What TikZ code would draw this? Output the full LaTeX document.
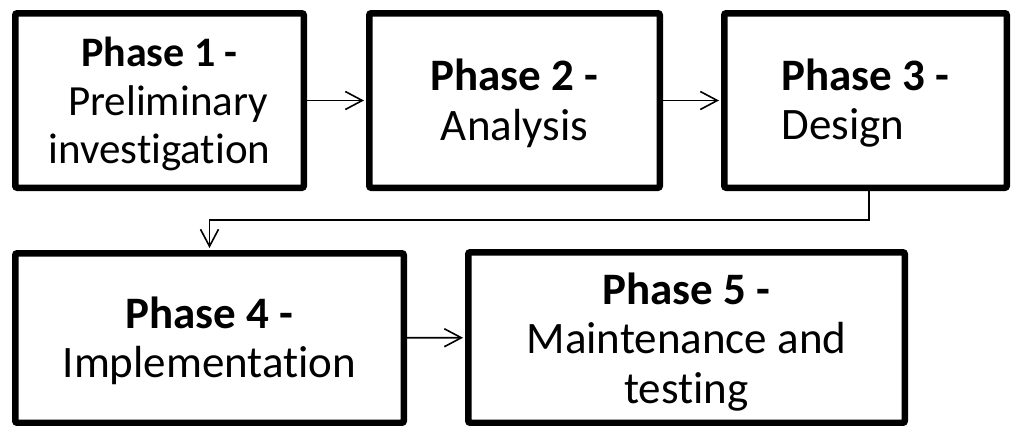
\documentclass[tikz,border=0pt]{standalone}
\usepackage{fontspec}
\setmainfont{Carlito}[RawFeature={-liga}]
\usetikzlibrary{arrows.meta,shadows}
\newcommand{\toppad}[1]{\rule{0pt}{#1}}
\tikzset{
  phasebox/.style={draw=black, fill=white, line width=6.5pt, rounded corners=2pt,
    align=center, inner sep=0pt, minimum height=174.5pt,
    drop shadow={shadow xshift=2.5pt, shadow yshift=-2.5pt, opacity=0.15, fill=black}},
  bigtext/.style={font=\fontsize{45}{49.5}\selectfont},
  smalltext/.style={font=\fontsize{43}{48.5}\selectfont},
  conn/.style={draw=black, line width=1.6pt, -{Straight Barb[length=17pt,width=18pt,line width=1.6pt]}},
}
\begin{document}
\begin{tikzpicture}[x=1pt,y=-1pt]
\useasboundingbox (0,0) rectangle (1013,426);
\node[phasebox, smalltext, minimum width=288.5pt] (b1) at (159.5,100.5)
  {\toppad{37pt}{\fontsize{42}{48.5}\selectfont\textbf{Phase 1 -}}\\\hspace*{0.4em}Preliminary\\investigation};
\node[phasebox, bigtext, minimum width=290.5pt] (b2) at (514.5,100.5)
  {\toppad{37pt}\textbf{Phase 2 -}\\Analysis};
\node[phasebox, bigtext, minimum width=282.5pt, align=left] (b3) at (865.5,100.5)
  {\toppad{37pt}\textbf{Phase 3 -}\\Design};
\node[phasebox, bigtext, minimum width=388.5pt, minimum height=169.5pt] (b4) at (209.5,338)
  {\toppad{37pt}\textbf{Phase 4 -}\\Implementation};
\node[phasebox, bigtext, minimum width=436.5pt, minimum height=170.5pt] (b5) at (686.5,337.5)
  {\toppad{40pt}\textbf{Phase 5 -}\\Maintenance and\\testing};
\draw[conn, shorten >=2pt] (b1) -- (b2);
\draw[conn, shorten >=2pt] (b2) -- (b3);
\draw[conn, shorten >=2pt] (b4) -- (b5);
\draw[conn, shorten >=2pt] ([xshift=3.5pt]b3.south) -- ++(0,-29pt) -| (b4.north);
\end{tikzpicture}
\end{document}
